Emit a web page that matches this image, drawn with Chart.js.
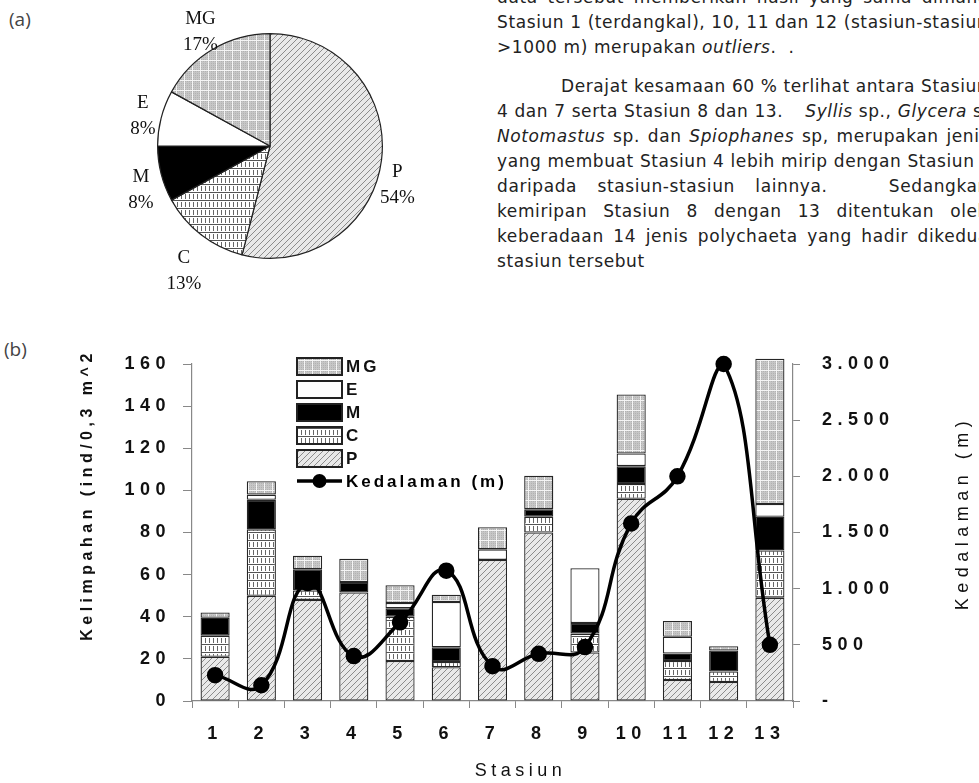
<!DOCTYPE html>
<html>
<head>
<meta charset="utf-8">
<script src="https://cdn.jsdelivr.net/npm/chart.js@4.4.1/dist/chart.umd.min.js"></script>
<style>
  html, body { margin: 0; padding: 0; background: #fff; }
  body { width: 979px; height: 783px; position: relative; overflow: hidden; }
  .tag { position: absolute; font-family: "Open Sans", sans-serif; font-size: 19px; line-height: 22px; color: #444; }
  #pieBox { position: absolute; left: 0; top: 0; width: 480px; height: 300px; }
  #barBox { position: absolute; left: 0; top: 300px; width: 979px; height: 483px; }
  #para { position: absolute; left: 497px; top: -15px; width: 492px; font-family: "DejaVu Sans", sans-serif; font-size: 17px; letter-spacing: 0.6px; line-height: 25px; color: #222; }
  #para div { white-space: nowrap; }
  #para .j { text-align: justify; text-align-last: justify; }
  #para .gap { display: inline-block; width: 22px; }
</style>
</head>
<body>
<div class="tag" style="left:9px;top:8px">(a)</div>
<div class="tag" style="left:4px;top:338px">(b)</div>

<div id="pieBox"><canvas id="pie"></canvas></div>

<div id="para">
  <div class="j">data tersebut memberikan hasil yang sama dimana</div>
  <div>Stasiun 1 (terdangkal), 10, 11 dan 12 (stasiun-stasiun</div>
  <div>&gt;1000 m) merupakan <i>outliers</i>. &nbsp;.</div>
  <div style="height:14px"></div>
  <div style="padding-left:64px">Derajat kesamaan 60 % terlihat antara Stasiun</div>
  <div>4 dan 7 serta Stasiun 8 dan 13.<span class="gap"></span><i>Syllis</i> sp., <i>Glycera</i> sp.,</div>
  <div class="j"><i>Notomastus</i> sp. dan <i>Spiophanes</i> sp, merupakan jenis</div>
  <div>yang membuat Stasiun 4 lebih mirip dengan Stasiun 7</div>
  <div class="j">daripada stasiun-stasiun lainnya. &nbsp;&nbsp;Sedangkan</div>
  <div class="j">kemiripan Stasiun 8 dengan 13 ditentukan oleh</div>
  <div class="j">keberadaan 14 jenis polychaeta yang hadir dikedua</div>
  <div>stasiun tersebut</div>
</div>

<div id="barBox"><canvas id="bars"></canvas></div>

<script>
// (a) komposisi kelompok polychaeta
const pieLabels = ["P", "C", "M", "E", "MG"];
const pieValues = [54, 13, 8, 8, 17];

// (b) kelimpahan per stasiun (ind/0,3 m^2) dan kedalaman (m)
const stations = ["1", "2", "3", "4", "5", "6", "7", "8", "9", "10", "11", "12", "13"];
const valP  = [21, 50, 48, 51.5, 19, 16, 67, 80, 23, 96, 10, 9, 49];
const valC  = [10, 31.5, 4.5, 0, 21, 2.5, 0, 7.5, 9, 7, 9, 5, 22.5];
const valM  = [8.5, 14, 10, 5, 4, 7, 0, 3.5, 5, 8.5, 3.5, 10, 16];
const valE  = [0, 2.5, 0, 0, 2.5, 21.5, 5, 0, 26, 6, 8, 0, 6];
const valMG = [2.5, 6.3, 6.5, 11, 8.5, 3.5, 10.5, 16, 0, 28, 7.5, 2, 69];
const depth = [230, 140, 1050, 400, 700, 1160, 310, 420, 480, 1580, 2000, 3000, 500];

const abundTicks = [0, 20, 40, 60, 80, 100, 120, 140, 160];
const depthTicks = [0, 500, 1000, 1500, 2000, 2500, 3000];

// pola arsiran ala grafik hitam-putih
function makePattern(kind) {
  const c = document.createElement("canvas");
  const g = c.getContext("2d");
  if (kind === "P") {
    c.width = 6; c.height = 6;
    g.fillStyle = "#e9e9e9"; g.fillRect(0, 0, 6, 6);
    g.strokeStyle = "#8c8c8c"; g.lineWidth = 1;
    g.beginPath();
    g.moveTo(-1, 7); g.lineTo(7, -1);
    g.moveTo(-4, 4); g.lineTo(4, -4);
    g.moveTo(2, 10); g.lineTo(10, 2);
    g.stroke();
  } else if (kind === "C") {
    c.width = 4; c.height = 8;
    g.fillStyle = "#fff"; g.fillRect(0, 0, 4, 8);
    g.fillStyle = "#666"; g.fillRect(1, 2, 1, 5);
    g.fillStyle = "#555"; g.fillRect(0, 0, 4, 1);
  } else if (kind === "M") {
    return "#000";
  } else if (kind === "E") {
    return "#fff";
  } else {
    c.width = 8; c.height = 10;
    g.fillStyle = "#b2b2b2"; g.fillRect(0, 0, 8, 10);
    g.fillStyle = "#c6c6c6";
    for (let i = 2; i < 8; i += 2) g.fillRect(i, 0, 1, 10);
    for (let j = 2; j < 10; j += 2) g.fillRect(0, j, 8, 1);
    g.fillStyle = "#f4f4f4"; g.fillRect(0, 0, 1, 10); g.fillRect(0, 0, 8, 1);
  }
  return g.createPattern(c, "repeat");
}

const fills = { P: makePattern("P"), C: makePattern("C"), M: makePattern("M"), E: makePattern("E"), MG: makePattern("MG") };

// ---------- pie ----------
const pieNudge = [[-12, 21], [0, 14], [7, 9], [9, 5], [2, 7]];

const pieText = {
  id: "pieText",
  afterDraw(chart) {
    const ctx = chart.ctx;
    const total = pieValues.reduce((a, b) => a + b, 0);
    ctx.save();
    ctx.font = "19px 'Liberation Serif'";
    ctx.fillStyle = "#111";
    ctx.textAlign = "center";
    ctx.textBaseline = "middle";
    chart.getDatasetMeta(0).data.forEach((arc, i) => {
      const p = arc.getProps(["x", "y", "startAngle", "endAngle", "outerRadius"], true);
      const mid = (p.startAngle + p.endAngle) / 2;
      const r = p.outerRadius * 1.25;
      const x = p.x + Math.cos(mid) * r + pieNudge[i][0];
      const y = p.y + Math.sin(mid) * r + pieNudge[i][1];
      ctx.fillText(pieLabels[i], x, y - 13);
      ctx.fillText(Math.round(pieValues[i] / total * 100) + "%", x, y + 13);
    });
    ctx.restore();
  }
};

new Chart(document.getElementById("pie"), {
  type: "pie",
  data: {
    labels: pieLabels,
    datasets: [{
      data: pieValues,
      backgroundColor: pieLabels.map((l) => fills[l]),
      borderColor: "#222",
      borderWidth: 1.2
    }]
  },
  options: {
    responsive: true,
    maintainAspectRatio: false,
    animation: false,
    layout: { padding: { left: 157, right: 97, top: 33, bottom: 41 } },
    plugins: { legend: { display: false }, tooltip: { enabled: false } }
  },
  plugins: [pieText]
});

// ---------- bar + line ----------
const spacing = {
  id: "spacing",
  beforeLayout(chart) { chart.ctx.letterSpacing = "5.5px"; },
  beforeDraw(chart) { chart.ctx.letterSpacing = "5.5px"; }
};

const legendBox = {
  id: "legendBox",
  afterDraw(chart) {
    const ctx = chart.ctx;
    const a = chart.chartArea;
    const x0 = a.left + 105;
    const bars = chart.data.datasets.filter((d) => d.type === "bar").slice().reverse();
    const line = chart.data.datasets.find((d) => d.type === "line");
    ctx.save();
    ctx.letterSpacing = "3px";
    ctx.font = "bold 17px 'Liberation Sans'";
    ctx.fillStyle = "#111";
    ctx.textBaseline = "middle";
    bars.forEach((d, i) => {
      const cy = a.top + 2 + i * 23;
      ctx.fillStyle = d.backgroundColor;
      ctx.fillRect(x0, cy - 8, 45, 17);
      ctx.strokeStyle = "#222";
      ctx.lineWidth = 2;
      ctx.strokeRect(x0, cy - 8, 45, 17);
      ctx.fillStyle = "#111";
      ctx.fillText(d.label, x0 + 49, cy + 1);
    });
    const ly = a.top + 2 + bars.length * 23;
    ctx.strokeStyle = "#000";
    ctx.lineWidth = 3.5;
    ctx.beginPath(); ctx.moveTo(x0, ly); ctx.lineTo(x0 + 45, ly); ctx.stroke();
    ctx.beginPath(); ctx.arc(x0 + 22.5, ly, 7, 0, Math.PI * 2); ctx.fillStyle = "#000"; ctx.fill();
    ctx.fillText(line.label, x0 + 49, ly + 1);
    ctx.restore();
  }
};

// teks terpusat manual supaya letterSpacing ikut dihitung
function centeredText(ctx, text, x, y, rot, font, sp) {
  ctx.save();
  ctx.translate(x, y);
  ctx.rotate(rot);
  ctx.letterSpacing = sp;
  ctx.font = font;
  ctx.textAlign = "left";
  ctx.textBaseline = "middle";
  const w = ctx.measureText(text).width;
  ctx.fillText(text, -w / 2, 0);
  ctx.restore();
}

const axisTitles = {
  id: "axisTitles",
  afterDraw(chart) {
    const ctx = chart.ctx;
    const a = chart.chartArea;
    ctx.fillStyle = "#111";
    centeredText(ctx, "Kelimpahan (ind/0,3 m^2", a.left - 104, a.top + 131, -Math.PI / 2, "bold 16px 'Liberation Sans'", "4.5px");
    centeredText(ctx, "Kedalaman (m)", a.right + 170, a.top + 149, -Math.PI / 2, "18px 'Liberation Sans'", "5.5px");
    centeredText(ctx, "Stasiun", (a.left + a.right) / 2 + 28, a.bottom + 70, 0, "18px 'Liberation Sans'", "4.5px");
  }
};

const tickFont = { family: "Liberation Sans", weight: "bold", size: 18 };

function dotThousands(v) {
  if (v === 0) return "-";
  return String(v).replace(/\B(?=(\d{3})+(?!\d))/g, ".");
}

const groupData = { P: valP, C: valC, M: valM, E: valE, MG: valMG };

new Chart(document.getElementById("bars"), {
  data: {
    labels: stations,
    datasets: [
      {
        type: "line",
        label: "Kedalaman (m)",
        data: depth,
        yAxisID: "y1",
        borderColor: "#000",
        borderWidth: 3.5,
        tension: 0.45,
        pointRadius: 6.5,
        pointBackgroundColor: "#000",
        pointBorderColor: "#000",
        clip: false,
        order: 0
      },
      ...["P", "C", "M", "E", "MG"].map((g) => ({
        type: "bar",
        label: g,
        data: groupData[g],
        yAxisID: "y",
        stack: "s",
        backgroundColor: fills[g],
        borderColor: "#262626",
        borderWidth: 1.3,
        borderSkipped: false,
        barPercentage: 0.63,
        categoryPercentage: 1,
        clip: false,
        order: 1
      }))
    ]
  },
  options: {
    responsive: true,
    maintainAspectRatio: false,
    animation: false,
    layout: { padding: { top: 64, left: 0, right: 0, bottom: 0 } },
    plugins: { legend: { display: false }, tooltip: { enabled: false } },
    scales: {
      x: {
        stacked: true,
        afterFit: (s) => { s.height = 82; },
        grid: { display: true, drawOnChartArea: false, offset: true, color: "#888", tickLength: 7 },
        border: { display: true, color: "#888", width: 1.2 },
        ticks: { font: tickFont, color: "#111", padding: 15 }
      },
      y: {
        stacked: true,
        position: "left",
        min: 0,
        max: 160,
        afterFit: (s) => { s.width = 192; },
        afterBuildTicks: (s) => { s.ticks = abundTicks.map((v) => ({ value: v })); },
        grid: { display: true, drawOnChartArea: false, color: "#888", tickLength: 9 },
        border: { display: true, color: "#888", width: 1.2 },
        ticks: { font: tickFont, color: "#111", padding: 12 }
      },
      y1: {
        position: "right",
        min: 0,
        max: 3000,
        afterFit: (s) => { s.width = 186; },
        afterBuildTicks: (s) => { s.ticks = depthTicks.map((v) => ({ value: v })); },
        grid: { display: true, drawOnChartArea: false, color: "#888", tickLength: 7 },
        border: { display: true, color: "#888", width: 1.2 },
        ticks: { font: tickFont, color: "#111", padding: 22, callback: (v) => dotThousands(v) }
      }
    }
  },
  plugins: [spacing, legendBox, axisTitles]
});
</script>
</body>
</html>
